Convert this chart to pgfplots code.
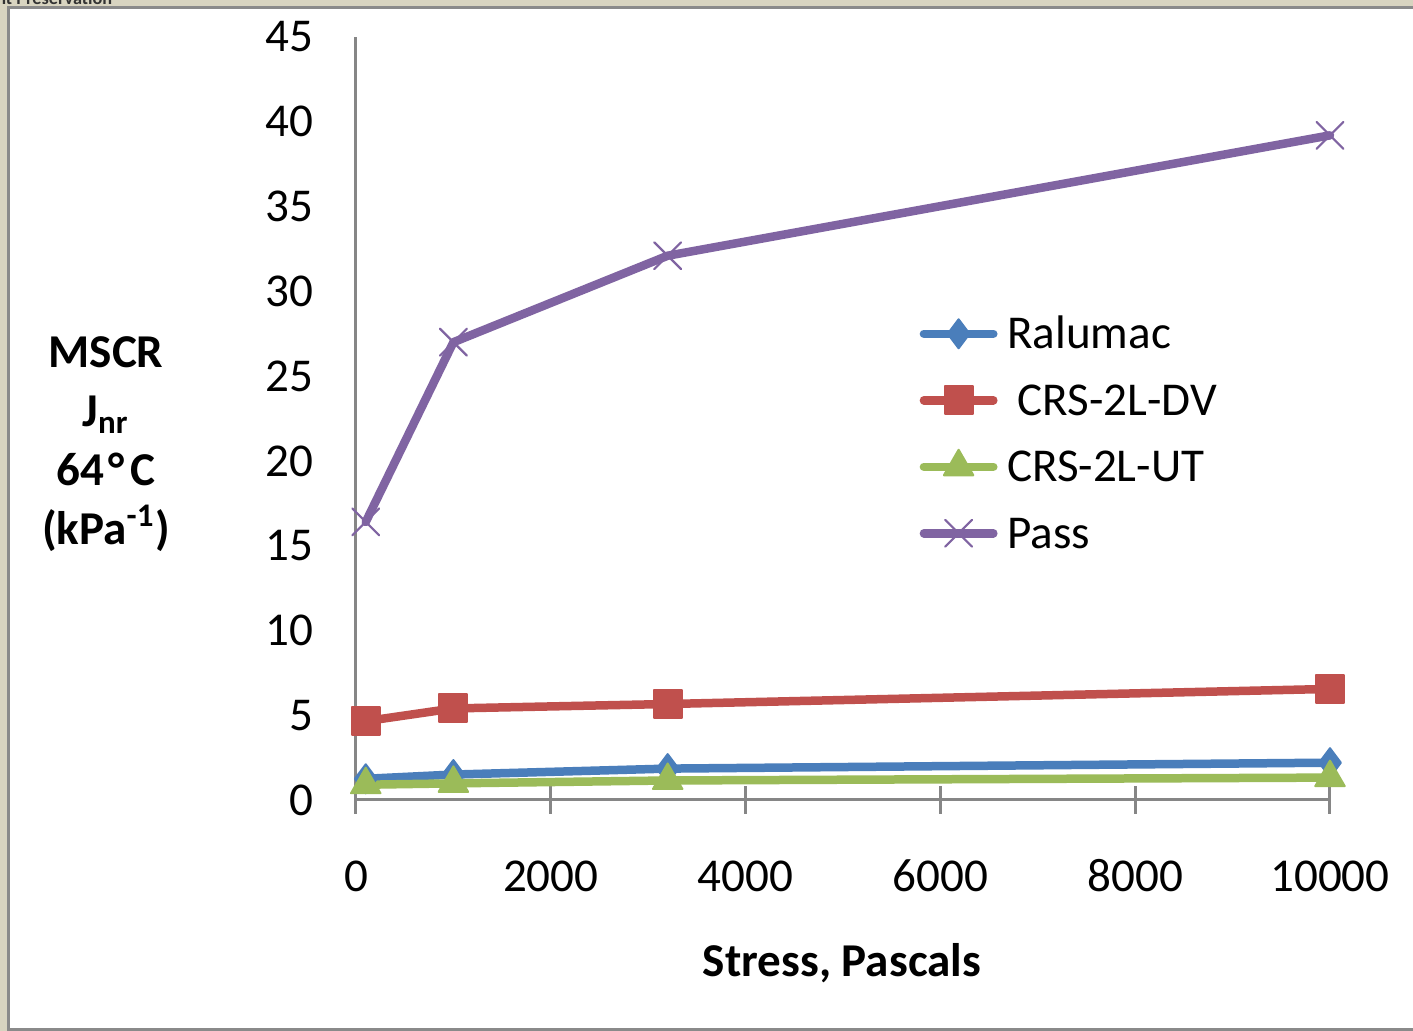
\documentclass[border=0pt]{standalone}
\usepackage{pgfplots}
\pgfplotsset{compat=1.18}
\usepackage{fontspec}
\setmainfont{Carlito}
\definecolor{ral}{RGB}{74,126,187}
\definecolor{dv}{RGB}{192,80,77}
\definecolor{ut}{RGB}{155,187,89}
\definecolor{pass}{RGB}{128,100,162}
\definecolor{axgray}{RGB}{134,134,134}
\definecolor{beige}{RGB}{216,212,192}
\definecolor{framegray}{RGB}{138,138,138}
\newcommand{\cf}{\fontsize{13.4}{16.5}\selectfont}
\begin{document}
\begin{tikzpicture}
\useasboundingbox (0mm,0mm) rectangle (141.3mm,103.1mm);
\fill[beige] (0mm,0mm) rectangle (141.3mm,103.1mm);
\fill[white] (0.85mm,0mm) rectangle (141.3mm,102.35mm);
\draw[framegray, line width=0.3mm] (0.85mm,0mm) -- (0.85mm,102.35mm) -- (141.3mm,102.35mm);
\draw[framegray, line width=0.3mm] (0.85mm,0.15mm) -- (141.3mm,0.15mm);
\node[anchor=base east, inner sep=0pt, text=black!80, font=\fontsize{5.2}{6}\selectfont\bfseries] at (11.3mm,102.65mm) {Pavement Preservation};
\node[align=center, inner sep=0pt, font=\fontsize{13.4}{16.8}\selectfont\bfseries] at (10.6mm,58.7mm) {MSCR\\J\textsubscript{nr}\\64\kern0.1em°\kern0.12em C\\(kPa\textsuperscript{-1})};
\node[anchor=base, inner sep=0pt, font=\cf\bfseries] at (84.2mm,5.4mm) {Stress, Pascals};
\begin{axis}[
  at={(35.6mm,23.1mm)}, anchor=origin,
  scale only axis, width=97.4mm, height=76.3mm,
  xmin=0, xmax=10000, ymin=0, ymax=45,
  axis lines=left,
  axis line style={-, axgray, line width=0.3mm},
  xtick={0,2000,...,10000}, ytick={0,5,...,45},
  xtick align=center, ytick align=inside,
  major tick length=2.8mm,
  xtick style={axgray, line width=0.3mm},
  ytick style={draw=none},
  scaled x ticks=false,
  /pgf/number format/1000 sep=,
  /pgf/number format/assume math mode=true,
  ticklabel style={font=\cf, inner sep=0pt},
  xticklabel style={anchor=base, yshift=-7.8mm},
  yticklabel style={anchor=east, xshift=-4.2mm},
  clip=false,
  every axis plot/.append style={line width=0.85mm, line cap=round, line join=round},
  legend image code/.code={\path (0mm,1.5mm) (7.8mm,1.5mm);\draw[mark repeat=2,mark phase=2,#1] plot coordinates {(0.43mm,1.5mm) (3.9mm,1.5mm) (7.37mm,1.5mm)};},
  legend style={at={(rel axis cs:0.5736,0.650)}, anchor=north west, draw=none, fill=none, inner sep=0pt,
    font=\cf, row sep=0pt,
    nodes={inner sep=0pt, text height=4.4mm, text depth=2.25mm, anchor=base west},
    /tikz/every odd column/.append style={column sep=0.53mm}},
  legend cell align=left,
]
\addplot[ral, mark=diamond*, mark size=1.45mm, mark options={solid, fill=ral, draw=ral, line width=0.2mm}]
  coordinates {(100,1.25) (1000,1.5) (3200,1.85) (10000,2.2)};
\addlegendentry{Ralumac}
\addplot[dv, mark=square*, mark size=1.4mm, mark options={solid, fill=dv, draw=dv, line width=0.2mm}]
  coordinates {(100,4.65) (1000,5.4) (3200,5.66) (10000,6.55)};
\addlegendentry{\ CRS-2L-DV}
\addplot[ut, mark=triangle*, mark size=1.7mm, mark options={solid, fill=ut, draw=ut, line width=0.2mm}]
  coordinates {(100,0.9) (1000,0.98) (3200,1.15) (10000,1.32)};
\addlegendentry{CRS-2L-UT}
\addplot[pass, mark=x, mark size=1.9mm, mark options={solid, line width=0.22mm}]
  coordinates {(100,16.4) (1000,27.0) (3200,32.1) (10000,39.2)};
\addlegendentry{Pass}
\end{axis}
\end{tikzpicture}
\end{document}
